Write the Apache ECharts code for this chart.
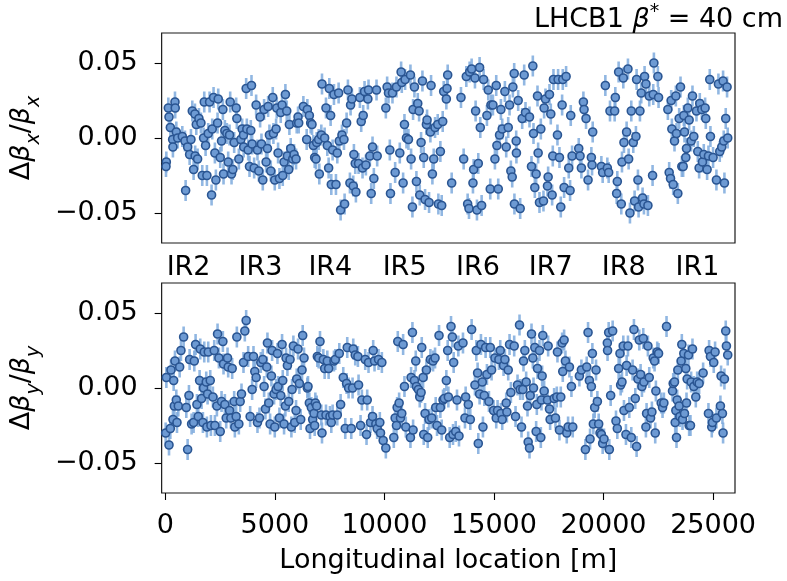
<!DOCTYPE html>
<html><head><meta charset="utf-8">
<script src="https://cdn.jsdelivr.net/npm/echarts@6/dist/echarts.min.js"></script>
<style>html,body{margin:0;padding:0;background:#fff}#c{width:787px;height:581px}</style>
</head><body><div id="c"></div><script>
// ---- horizontal beta-beating (top panel): longitudinal position [m], value ----
const sX = [44,29,136,166,227,439,450,333,345,500,561,773,895,925,1016,1107,1168,1229,1289,1350,1360,1411,1471,1532,1623,1684,1745,1775,1836,1896,1957,2018,2109,2200,2139,2261,2306,2382,2413,2504,2564,2625,2655,2716,2807,2868,2929,2959,3020,3081,3141,3232,3263,3354,3445,3506,3566,3576,3688,3718,3779,3840,3900,3931,3961,4052,4143,4204,4265,4325,4386,4447,4507,4599,4659,4690,4750,4811,4902,4932,4993,5054,5084,5145,5206,5266,5327,5358,5418,5479,5540,5570,5631,5661,5722,5813,5874,5965,5995,6056,6086,6299,6450,6481,6572,6633,6693,6754,6815,6876,6906,6997,7027,7118,7149,7270,7331,7392,7452,7483,7543,7574,7635,7695,7786,7847,7908,7938,7999,8060,8151,8181,8272,8333,8424,8454,8515,8576,8606,8667,8697,
8818,8879,8939,9030,9000,9091,9152,9243,9273,9334,9395,9456,9516,9638,9668,10063,10123,10184,10245,10275,10366,10488,10548,10700,10761,10791,10852,10913,10943,11004,11095,11186,11216,11277,11307,11368,11459,11520,11581,11611,11672,11733,11793,11854,11915,11945,12036,12097,12127,12188,12249,12309,12431,12461,12552,12613,12659,12704,12825,12856,12886,13068,13493,13615,13736,13797,13858,13888,13979,14040,14070,14131,14161,14222,14283,14343,14374,14435,14526,14677,14738,14829,14860,14951,15042,15102,15133,15194,15254,15315,15376,15497,15558,15649,15710,15770,15831,15861,15922,15932,16013,16023,16104,16195,16287,16378,16438,16620,16711,16772,16803,16863,16924,16985,17015,17076,17137,17258,17288,17349,
17471,17441,17532,17592,17653,17683,17714,17896,17926,17987,18048,18109,18139,18200,18291,18412,18473,18503,18564,18868,18928,18989,19080,19110,19201,19293,19444,19475,19505,19900,19960,20082,20173,20234,20294,20507,20537,20598,20628,20689,20810,20841,20902,20932,21053,21114,21145,21205,21266,21357,21418,21478,21509,21570,21600,21661,21721,21782,21843,21873,21934,22025,22086,22238,22268,22298,22480,22511,22936,22996,23057,23088,23118,23179,23239,23300,23330,23391,23452,23513,23573,23634,23664,23695,23755,23786,23847,23907,23998,24059,24120,24241,24302,24363,24393,24484,24515,24575,24636,24666,24727,24788,24848,24879,25000,25152,25243,25304,25395,25456,25486,25517,25577,25638,25668];
const bbX = [-0.016,-0.019,0.020,0.014,0.007,0.024,0.020,-0.001,-0.006,0.004,0.000,0.001,-0.002,-0.035,-0.006,-0.011,-0.001,0.018,-0.021,0.016,-0.012,0.009,-0.014,0.013,0.010,-0.025,0.000,0.024,-0.005,-0.025,0.003,0.024,-0.038,0.027,0.006,-0.010,-0.028,0.010,0.026,-0.013,-0.002,0.019,-0.024,0.005,0.003,-0.016,0.002,0.024,-0.024,-0.021,-0.003,0.020,0.013,-0.014,-0.001,0.006,0.002,-0.006,0.033,0.006,-0.008,-0.019,0.005,0.035,-0.004,-0.020,0.022,-0.008,-0.022,0.014,-0.004,-0.028,0.019,-0.016,-0.007,0.021,0.002,-0.022,0.027,0.003,-0.028,0.006,0.020,-0.010,-0.027,0.017,0.022,-0.025,-0.016,0.029,0.018,-0.012,-0.021,0.009,-0.007,-0.014,-0.011,-0.014,0.010,0.014,0.010,0.021,-0.001,0.019,0.015,0.010,0.009,-0.005,-0.013,-0.014,-0.003,-0.001,-0.024,0.002,0.036,0.000,0.020,-0.005,-0.020,0.033,0.015,-0.031,-0.008,0.029,-0.031,-0.010,0.030,-0.002,-0.048,0.002,-0.001,-0.044,0.010,0.032,-0.030,0.022,0.026,-0.032,-0.011,-0.017,-0.036,
-0.017,0.027,0.011,0.015,-0.020,0.031,-0.018,0.026,0.032,-0.012,-0.037,-0.006,-0.027,0.032,-0.012,0.020,0.034,0.030,-0.008,-0.037,0.030,-0.023,0.034,-0.010,0.044,0.037,-0.030,0.009,0.039,0.000,-0.001,0.042,-0.014,-0.046,0.019,0.034,-0.029,0.023,0.018,-0.038,-0.003,0.038,-0.013,-0.041,0.009,0.012,-0.043,0.004,0.035,-0.024,-0.014,0.007,0.009,-0.044,-0.009,-0.045,0.011,0.031,0.026,0.033,0.042,-0.030,0.027,-0.014,0.041,-0.044,-0.047,0.044,0.046,-0.030,-0.021,0.040,0.018,-0.048,-0.017,0.047,0.007,-0.045,0.039,0.015,0.032,-0.034,0.022,0.022,-0.014,0.035,-0.005,-0.034,0.002,0.019,0.006,0.031,-0.006,0.007,0.022,-0.022,-0.026,0.034,0.043,-0.044,-0.002,-0.010,0.025,-0.047,0.013,0.042,0.017,0.014,-0.019,0.048,0.003,-0.033,-0.024,0.028,-0.010,-0.043,0.006,-0.042,0.020,0.026,
-0.026,-0.032,0.029,0.016,-0.038,-0.012,0.039,0.002,0.039,-0.013,-0.046,0.022,0.039,-0.033,0.041,-0.020,-0.035,0.015,-0.012,-0.007,-0.012,-0.020,0.024,0.019,0.013,-0.028,-0.013,-0.018,0.004,-0.019,-0.023,0.035,-0.020,-0.023,0.018,0.018,0.027,-0.037,-0.029,0.044,-0.044,-0.016,0.040,-0.003,0.004,0.046,-0.014,-0.050,0.018,-0.003,-0.042,0.001,0.039,-0.028,-0.046,0.018,0.030,-0.040,-0.044,0.041,0.036,-0.045,0.028,-0.025,0.029,0.050,0.041,0.027,0.019,-0.023,-0.027,0.025,0.006,-0.031,-0.002,0.028,0.003,-0.037,0.013,0.034,-0.019,-0.019,0.015,0.004,-0.013,-0.007,0.020,0.012,-0.002,0.028,0.001,0.018,-0.009,-0.020,0.023,0.019,-0.016,-0.011,0.020,0.013,-0.021,-0.012,0.039,0.001,-0.013,-0.028,0.036,-0.009,-0.006,0.038,-0.002,-0.030,0.013,0.034,0.000];
// ---- vertical beta-beating (bottom panel) ----
const sY = [14,45,166,227,257,348,379,409,439,500,530,591,652,712,834,955,1016,1077,1107,1198,1289,1320,1380,1441,1502,1563,1593,1654,1714,1745,1775,1866,1896,1927,1957,2048,2079,2170,2230,2261,2352,2382,2443,2504,2564,2625,2655,2716,2777,2838,2868,2929,2989,3050,3141,3172,3232,3263,3354,3414,3475,3566,3627,3688,3779,3870,3961,4022,4082,4143,4204,4295,4356,4447,4507,4568,4629,4659,4720,4781,4841,4872,4963,4993,5054,5115,5145,5206,5266,5327,5358,5418,5479,5509,5570,5631,5691,5752,5783,5843,5904,5965,5995,6056,6117,6177,6238,6268,6329,6481,6511,6572,6602,6663,6724,6784,6815,6845,6906,6936,6997,7058,7118,7149,7210,7270,7331,7392,7452,7513,7574,7635,7695,7756,7847,7938,7999,8120,8211,8272,8302,8363,8485,8545,8576,8667,
8788,8818,8909,8970,9122,9182,9213,9273,9364,9456,9486,9547,9607,9668,9729,9789,9820,9881,9941,10063,10427,10488,10548,10579,10609,10670,10731,10791,10852,10913,10974,11186,11216,11277,11307,11368,11429,11459,11550,11611,11672,11702,11763,11793,11854,11915,11975,12036,12097,12158,12218,12309,12340,12400,12491,12552,12613,12674,12734,12825,12886,12917,12977,13038,13099,13129,13159,13251,13311,13372,13402,13584,13675,13706,13827,13918,13979,14131,14192,14252,14283,14343,14404,14465,14495,14556,14617,14677,14769,14829,14890,14981,15042,15102,15163,15224,15285,15315,15376,15436,15497,15558,15588,15649,15710,15770,15922,15983,16074,16165,16195,16256,16317,16347,16408,16468,16529,16560,16620,16651,16712,16772,16803,16863,16924,16954,16985,17076,17137,17167,17197,17228,17288,
17471,17441,17532,17562,17744,17805,17866,17896,17987,18048,18109,18139,18200,18260,18321,18382,18442,18534,18594,18898,18989,19171,19232,19293,19353,19384,19444,19490,19535,19596,19657,19718,19778,19839,19900,19960,20021,20173,20183,20234,20264,20325,20416,20568,20628,20689,20750,20780,20841,20902,20932,21023,21053,21114,21175,21266,21327,21387,21448,21509,21570,21630,21691,21752,21813,21843,21934,21964,22025,22086,22146,22207,22268,22329,22359,22389,22450,22511,22632,22693,22754,22875,23148,23179,23239,23270,23300,23330,23361,23391,23452,23482,23543,23573,23604,23664,23695,23755,23786,23816,23877,23907,23968,23998,24059,24120,24211,24272,24363,24545,24788,24818,24879,24940,24970,25030,25091,25152,25334,25365,25426,25456,25517,25577,25608,25668];
const bbY = [-0.030,0.007,-0.038,-0.027,0.012,-0.021,0.005,-0.012,0.018,-0.008,-0.023,-0.012,0.014,0.025,0.034,-0.013,-0.041,-0.005,0.019,-0.024,-0.023,0.018,0.029,-0.011,-0.019,0.005,0.026,-0.007,-0.023,0.000,0.024,0.004,-0.026,-0.004,0.024,0.005,-0.025,-0.006,0.025,-0.025,-0.012,0.036,0.020,-0.029,-0.009,0.031,0.016,-0.011,-0.020,0.020,0.014,-0.015,-0.020,0.013,-0.009,-0.026,-0.019,0.034,-0.024,-0.009,-0.004,0.017,0.038,0.045,0.021,-0.019,-0.001,0.021,0.011,0.007,-0.023,-0.020,0.017,0.019,0.001,-0.014,0.014,0.030,-0.010,-0.024,0.008,0.025,-0.004,-0.026,-0.001,0.023,0.001,-0.020,-0.005,0.029,0.005,-0.024,-0.012,0.020,0.015,-0.009,0.019,-0.026,-0.001,0.028,-0.023,-0.015,0.006,0.026,0.003,-0.021,0.012,0.035,0.020,0.000,0.001,-0.010,-0.027,-0.013,-0.021,-0.017,-0.025,-0.010,-0.012,0.021,0.020,0.031,-0.018,-0.030,0.019,0.013,-0.018,0.018,0.013,-0.019,-0.023,-0.018,0.018,0.019,-0.018,0.023,-0.011,0.007,-0.027,0.003,0.027,0.000,-0.027,0.000,0.026,0.022,
0.021,0.002,-0.025,-0.008,0.019,-0.031,-0.008,0.017,-0.023,-0.019,0.025,0.018,-0.024,-0.027,0.019,-0.023,-0.030,0.017,-0.035,-0.040,-0.033,-0.020,-0.025,-0.013,0.031,-0.010,-0.020,-0.017,0.029,0.001,-0.026,-0.033,0.007,0.037,-0.028,0.005,0.018,0.001,-0.001,-0.006,-0.003,0.027,0.007,-0.031,-0.017,0.012,-0.033,-0.021,0.019,-0.020,0.018,0.020,-0.013,-0.025,0.035,-0.013,-0.028,-0.008,-0.007,0.005,0.025,-0.006,-0.033,0.041,0.034,-0.031,0.017,-0.029,-0.008,0.028,-0.032,0.030,-0.020,-0.006,-0.011,-0.021,0.039,0.002,0.025,0.010,-0.037,-0.004,0.029,0.004,-0.026,-0.005,0.027,0.009,-0.009,0.027,0.012,-0.015,0.020,-0.020,-0.015,0.019,0.025,-0.017,-0.021,0.015,0.019,-0.010,-0.016,0.012,0.029,-0.003,0.028,-0.019,0.002,0.042,-0.001,-0.026,-0.001,0.018,0.025,0.004,-0.012,-0.036,-0.040,-0.005,0.036,0.020,0.000,0.027,-0.029,-0.011,0.013,0.025,-0.033,-0.008,0.008,0.035,-0.002,
0.028,-0.008,-0.014,-0.021,-0.007,-0.020,-0.006,0.024,-0.028,-0.006,0.030,0.011,0.032,0.018,-0.030,-0.026,0.014,0.001,-0.026,0.008,0.012,-0.041,0.014,0.037,0.005,-0.034,0.001,0.023,-0.024,-0.013,0.012,-0.009,-0.024,-0.030,-0.031,-0.037,-0.034,0.030,0.025,0.037,-0.041,-0.005,0.038,-0.022,-0.027,0.013,0.023,0.002,0.004,0.028,-0.015,-0.031,0.015,0.028,-0.013,-0.033,0.012,0.039,-0.007,-0.039,0.006,0.032,0.009,0.001,0.033,0.004,-0.026,-0.017,0.028,0.007,-0.020,-0.016,0.020,0.018,-0.030,-0.002,0.024,0.023,-0.010,-0.013,-0.010,0.041,-0.002,0.003,0.004,-0.023,-0.015,-0.033,-0.008,0.012,-0.012,-0.019,0.018,0.029,-0.021,0.023,-0.017,0.013,-0.010,0.006,0.022,-0.025,-0.025,0.004,0.026,0.001,-0.006,0.004,0.003,0.010,-0.017,0.025,0.021,-0.026,-0.023,0.017,0.024,-0.020,-0.012,0.008,-0.017,-0.030,0.006,0.038,0.028,0.022];
const errX = 0.007, errY = 0.007;           // typical half-length of error bars
const xTicks = [0, 5000, 10000, 15000, 20000, 25000];
const yTicks = [-0.05, 0, 0.05];
const irNames = ['IR2','IR3','IR4','IR5','IR6','IR7','IR8','IR1'];
const irPos = [1060, 4340, 7530, 10920, 14270, 17590, 20920, 24290];

const FONT = 'DejaVu Sans';
const chart = echarts.init(document.getElementById('c'), null, {renderer: 'canvas'});
const pairs = (s, v) => s.map((x, i) => [x, v[i]]);
function errRender(err) {
  return function (params, api) {
    const x = api.value(0), y = api.value(1);
    const a = api.coord([x, y - err]), b = api.coord([x, y + err]);
    return {type: 'line', shape: {x1: a[0], y1: a[1], x2: b[0], y2: b[1]},
      style: {stroke: '#7eaadd', lineWidth: 2.6, opacity: 0.85}};
  };
}
const yFmt = v => (Math.abs(v) < 1e-9 ? '0.00' : (v < 0 ? '\u2212' : '') + Math.abs(v).toFixed(2));
const richName = {
  n: {fontSize: 27, fontFamily: FONT, fontWeight: 'normal', color: '#000', lineHeight: 36, verticalAlign: 'top'},
  i: {fontSize: 27, fontFamily: FONT, fontWeight: 'normal', fontStyle: 'italic', color: '#000', lineHeight: 36, verticalAlign: 'top'},
  s: {fontSize: 19, fontFamily: FONT, fontWeight: 'normal', fontStyle: 'italic', color: '#000', lineHeight: 19, verticalAlign: 'bottom'}
};
function yAxisOpt(idx, name) {
  return {
    type: 'value', gridIndex: idx, min: -0.07, max: 0.07,
    name: name, nameLocation: 'middle', nameRotate: 90, nameGap: 92,
    nameTextStyle: {rich: richName},
    splitLine: {show: false}, axisLine: {show: false, onZero: false},
    axisTick: {show: true, customValues: yTicks, length: 7, lineStyle: {color: '#000', width: 1.1}},
    axisLabel: {customValues: yTicks, formatter: yFmt, fontSize: 27, fontFamily: FONT, color: '#000', margin: 24}
  };
}
const option = {
  animation: false,
  backgroundColor: '#fff',
  title: {
    text: '{n|LHCB1 }{i|β}{s|*}{n| = 40 cm}', right: -1, top: -6,
    textStyle: {fontWeight: 'normal', rich: {
      n: {fontSize: 27, fontFamily: FONT, fontWeight: 'normal', color: '#000', lineHeight: 34, verticalAlign: 'bottom'},
      i: {fontSize: 27, fontFamily: FONT, fontWeight: 'normal', fontStyle: 'italic', color: '#000', lineHeight: 34, verticalAlign: 'bottom'},
      s: {fontSize: 19, fontFamily: FONT, fontWeight: 'normal', color: '#000', lineHeight: 19, verticalAlign: 'top', padding: [4, 0, 0, 0]}
    }}
  },
  grid: [
    {left: 160, top: 33, width: 575, height: 210, show: true, borderColor: '#1a1a1a', borderWidth: 1.2, backgroundColor: 'transparent'},
    {left: 160, top: 283, width: 575, height: 210, show: true, borderColor: '#1a1a1a', borderWidth: 1.2, backgroundColor: 'transparent'}
  ],
  xAxis: [
    {type: 'value', gridIndex: 0, min: -170, max: 26000, splitLine: {show: false}, axisLine: {show: false, onZero: false},
      axisTick: {show: false},
      axisLabel: {customValues: irPos, formatter: v => irNames[irPos.indexOf(v)], fontSize: 27, fontFamily: FONT, color: '#000', margin: 11}},
    {type: 'value', gridIndex: 1, min: -170, max: 26000, splitLine: {show: false}, axisLine: {show: false, onZero: false},
      name: 'Longitudinal location [m]', nameLocation: 'middle', nameGap: 54,
      nameTextStyle: {fontSize: 27, fontFamily: FONT, color: '#000', verticalAlign: 'top'},
      axisTick: {show: true, customValues: xTicks, length: 7, lineStyle: {color: '#000', width: 1.1}},
      axisLabel: {customValues: xTicks, formatter: v => String(v), fontSize: 27, fontFamily: FONT, color: '#000', margin: 19}}
  ],
  yAxis: [
    yAxisOpt(0, '{n|Δ}{i|β}{s|x}{n|/}{i|β}{s|x}'),
    yAxisOpt(1, '{n|Δ}{i|β}{s|y}{n|/}{i|β}{s|y}')
  ],
  series: [
    {type: 'custom', xAxisIndex: 0, yAxisIndex: 0, data: pairs(sX, bbX), renderItem: errRender(errX), clip: true, silent: true},
    {type: 'scatter', xAxisIndex: 0, yAxisIndex: 0, data: pairs(sX, bbX), symbol: 'circle', symbolSize: 8,
      itemStyle: {color: '#6d9ad3', borderColor: '#2a5592', borderWidth: 1.6, opacity: 1}, silent: true},
    {type: 'custom', xAxisIndex: 1, yAxisIndex: 1, data: pairs(sY, bbY), renderItem: errRender(errY), clip: true, silent: true},
    {type: 'scatter', xAxisIndex: 1, yAxisIndex: 1, data: pairs(sY, bbY), symbol: 'circle', symbolSize: 8,
      itemStyle: {color: '#6d9ad3', borderColor: '#2a5592', borderWidth: 1.6, opacity: 1}, silent: true}
  ]
};
chart.setOption(option);
</script></body></html>
